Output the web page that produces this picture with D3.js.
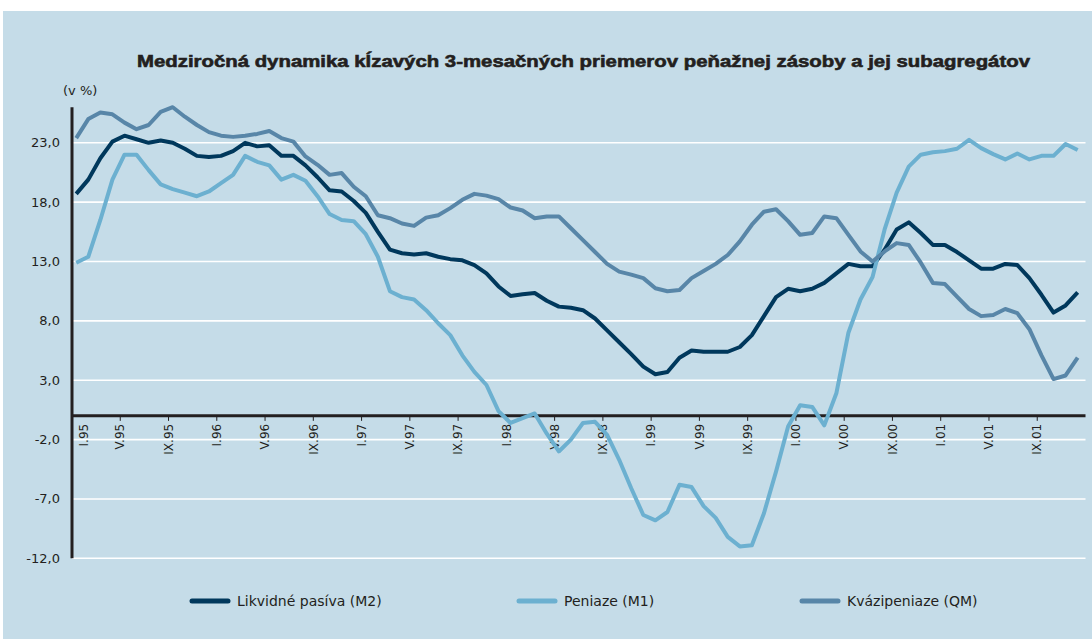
<!DOCTYPE html>
<html>
<head>
<meta charset="utf-8">
<script src="https://cdn.jsdelivr.net/npm/d3@7/dist/d3.min.js"></script>
<style>
  body { margin: 0; background: #ffffff; }
  text { font-family: "DejaVu Sans", Verdana, sans-serif; fill: #231f20; }
</style>
</head>
<body>
<div id="chart-container"></div>
<script>
// tick labels on the time axis, one every 4 months from I.95
const tickLabels = ['I.95', 'V.95', 'IX.95', 'I.96', 'V.96', 'IX.96', 'I.97', 'V.97', 'IX.97',
  'I.98', 'V.98', 'IX.98', 'I.99', 'V.99', 'IX.99', 'I.00', 'V.00', 'IX.00', 'I.01', 'V.01', 'IX.01'];

const yTicks = [23, 18, 13, 8, 3, -2, -7, -12];

const seriesNames = ['Likvidné pasíva (M2)', 'Peniaze (M1)', 'Kvázipeniaze (QM)'];

// monthly values, I.95 .. XII.01
const m2Values = [
  18.7, 19.9, 21.7, 23.1, 23.6, 23.3, 23.0, 23.2, 23.0, 22.5, 21.9, 21.8,
  21.9, 22.3, 23.0, 22.7, 22.8, 21.9, 21.9, 21.1, 20.1, 19.0, 18.9, 18.1,
  17.1, 15.5, 14.0, 13.7, 13.6, 13.7, 13.4, 13.2, 13.1, 12.7, 12.0, 10.9,
  10.1, 10.25, 10.35, 9.7, 9.2, 9.1, 8.9, 8.2, 7.2, 6.2, 5.2, 4.15,
  3.5, 3.7, 4.9, 5.5, 5.4, 5.4, 5.4, 5.8, 6.8, 8.4, 10.0, 10.7,
  10.5, 10.7, 11.2, 12.0, 12.8, 12.6, 12.6, 14.0, 15.7, 16.3, 15.4, 14.4,
  14.4, 13.8, 13.1, 12.4, 12.4, 12.8, 12.7, 11.6, 10.2, 8.7, 9.3, 10.4
];

const m1Values = [
  12.9, 13.4, 16.5, 19.9, 22.0, 22.0, 20.7, 19.5, 19.1, 18.8, 18.5, 18.9,
  19.6, 20.3, 21.9, 21.4, 21.1, 19.9, 20.3, 19.8, 18.5, 17.0, 16.5, 16.4,
  15.3, 13.4, 10.5, 10.0, 9.8, 8.9, 7.8, 6.8, 5.1, 3.7, 2.6, 0.4,
  -0.6, -0.2, 0.2, -1.5, -3.0, -2.0, -0.6, -0.5, -1.6, -3.7, -6.1, -8.35,
  -8.8, -8.1, -5.8, -6.0, -7.6, -8.6, -10.2, -11.0, -10.9, -8.2, -4.7, -0.9,
  0.9, 0.75, -0.8, 1.9, 7.0, 9.8, 11.7, 15.7, 18.8, 21.0, 22.0, 22.2,
  22.3, 22.5, 23.25, 22.55, 22.05, 21.6, 22.1, 21.6, 21.9, 21.9, 22.9, 22.4
];

const qmValues = [
  23.4, 25.0, 25.55, 25.4, 24.7, 24.15, 24.5, 25.6, 26.0, 25.2, 24.5, 23.9,
  23.6, 23.5, 23.6, 23.75, 24.0, 23.4, 23.1, 21.85, 21.15, 20.3, 20.45, 19.3,
  18.5, 16.9, 16.65, 16.2, 16.0, 16.7, 16.9, 17.5, 18.2, 18.7, 18.55, 18.25,
  17.55, 17.3, 16.65, 16.8, 16.8, 15.8, 14.8, 13.8, 12.8, 12.15, 11.9, 11.6,
  10.75, 10.5, 10.6, 11.6, 12.2, 12.8, 13.55, 14.7, 16.1, 17.2, 17.4, 16.4,
  15.25, 15.4, 16.8, 16.65, 15.25, 13.85, 13.0, 13.85, 14.55, 14.4, 12.9, 11.2,
  11.1, 10.05, 9.0, 8.4, 8.5, 9.0, 8.65, 7.3, 5.1, 3.1, 3.4, 4.9
];

const width = 1092;
const height = 639;
const colors = ['#00385c', '#6cb0d0', '#5886a8'];
const ink = '#231f20';

const svg = d3.select('#chart-container')
  .append('svg')
  .attr('width', width)
  .attr('height', height);

svg.append('rect')
  .attr('x', 3)
  .attr('y', 11)
  .attr('width', width - 3)
  .attr('height', height - 11)
  .attr('fill', '#c5dce8');

// month index scale, data points sit about a third of a month after the tick
const x = d3.scaleLinear().domain([0, 84]).range([72, 1085.5]);
const pointOffset = 0.35;
const y = d3.scaleLinear().domain([-12, 26]).range([558.3, 107.2]);

const fmt = (v) => d3.format('.1f')(v).replace('.', ',').replace('−', '-');

// white grid
svg.selectAll('.grid')
  .data(yTicks)
  .enter()
  .append('line')
  .attr('class', 'grid')
  .attr('x1', x(0))
  .attr('x2', x(84))
  .attr('y1', (d) => y(d))
  .attr('y2', (d) => y(d))
  .style('stroke', '#ffffff')
  .style('stroke-width', 1.6);

svg.selectAll('.ylab')
  .data(yTicks)
  .enter()
  .append('text')
  .attr('class', 'ylab')
  .attr('x', 60)
  .attr('y', (d) => y(d))
  .attr('dy', '0.35em')
  .attr('text-anchor', 'end')
  .style('font-size', '13px')
  .text((d) => fmt(d));

// zero line with ticks and month labels
svg.append('line')
  .attr('x1', x(0))
  .attr('x2', x(84))
  .attr('y1', y(0))
  .attr('y2', y(0))
  .style('stroke', ink)
  .style('stroke-width', 3);

svg.selectAll('.xtick')
  .data(tickLabels)
  .enter()
  .append('line')
  .attr('class', 'xtick')
  .attr('x1', (_, i) => x(i * 4))
  .attr('x2', (_, i) => x(i * 4))
  .attr('y1', y(0))
  .attr('y2', y(0) + 5)
  .style('stroke', ink)
  .style('stroke-width', 1);

svg.selectAll('.xlab')
  .data(tickLabels)
  .enter()
  .append('text')
  .attr('class', 'xlab')
  .attr('text-anchor', 'end')
  .attr('dy', '0.35em')
  .style('font-size', '12px')
  .attr('transform', (_, i) => {
    const px = i === 0 ? x(1) : x(i * 4);
    return `translate(${px}, ${y(0) + 8}) rotate(-90)`;
  })
  .text((d) => d);

// y axis
svg.append('line')
  .attr('x1', x(0))
  .attr('x2', x(0))
  .attr('y1', y(-12))
  .attr('y2', y(26))
  .style('stroke', ink)
  .style('stroke-width', 3);

const lineGenerator = d3.line()
  .x((_, i) => x(i + pointOffset))
  .y((d) => y(d));

[m2Values, m1Values, qmValues].forEach((values, k) => {
  svg.append('path')
    .datum(values)
    .attr('d', lineGenerator)
    .style('fill', 'none')
    .style('stroke', colors[k])
    .style('stroke-width', 4)
    .style('stroke-linejoin', 'round');
});

// title and unit
svg.append('text')
  .attr('x', 583.5)
  .attr('y', 67)
  .attr('text-anchor', 'middle')
  .attr('textLength', 893)
  .attr('lengthAdjust', 'spacingAndGlyphs')
  .style('font-family', '"Liberation Sans", Arial, sans-serif')
  .style('font-size', '17px')
  .style('font-weight', 'bold')
  .style('stroke', ink)
  .style('stroke-width', 0.6)
  .text('Medziročná dynamika kĺzavých 3-mesačných priemerov peňažnej zásoby a jej subagregátov');

svg.append('text')
  .attr('x', 63)
  .attr('y', 95)
  .style('font-size', '13px')
  .text('(v %)');

// legend
const legendX = [190, 517, 800];
const legend = svg.selectAll('.legend')
  .data(seriesNames)
  .enter()
  .append('g')
  .attr('class', 'legend')
  .attr('transform', (_, i) => `translate(${legendX[i]}, 601)`);

legend.append('line')
  .attr('x1', 2)
  .attr('x2', 38)
  .style('stroke', (_, i) => colors[i])
  .style('stroke-width', 5)
  .style('stroke-linecap', 'round');

legend.append('text')
  .attr('x', 47)
  .attr('dy', '0.35em')
  .style('font-size', '14px')
  .text((d) => d);
</script>
</body>
</html>
